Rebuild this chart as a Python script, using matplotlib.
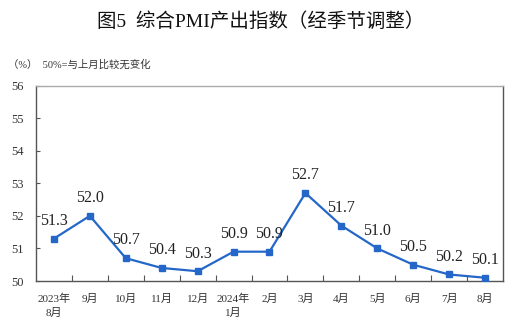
import matplotlib
matplotlib.use("Agg")
import matplotlib.pyplot as plt

categories = ["2023年\n8月", "9月", "10月", "11月", "12月", "2024年\n1月", "2月", "3月", "4月", "5月", "6月", "7月", "8月"]
values = [51.3, 52.0, 50.7, 50.4, 50.3, 50.9, 50.9, 52.7, 51.7, 51.0, 50.5, 50.2, 50.1]
yticks = [50, 51, 52, 53, 54, 55, 56]

fam = ["Liberation Serif", "Noto Sans CJK SC"]
plt.rcParams['font.family'] = fam

fig = plt.figure(figsize=(5.21, 3.24), dpi=100)
ax = fig.add_axes([0.069, 0.1327, 0.8965, 0.6033])

x = list(range(len(values)))
color = "#2567C8"
ax.plot(x, values, color=color, lw=1.6, marker="s", ms=4.5, zorder=3)
for xi, v in zip(x, values):
    ax.annotate(f"{v:.1f}", (xi, v), xytext=(0, 7), textcoords="offset points",
                ha="center", va="bottom", fontsize=11.5, color="#222222")

ax.set_xlim(-0.5, len(values) - 0.5)
ax.set_ylim(50, 56)
ax.set_yticks(yticks)
ax.set_yticklabels([str(t) for t in yticks], fontsize=9, color="#333333")
ax.tick_params(axis="y", direction="in", length=3, width=0.8, color="#555555", pad=9)

ax.set_xticks(x)
ax.set_xticklabels(categories, fontsize=8, color="#333333", linespacing=1.5)
ax.tick_params(axis="x", which="major", length=0, pad=9)
ax.set_xticks([i + 0.5 for i in range(len(values) - 1)], minor=True)
ax.tick_params(axis="x", which="minor", direction="in", length=4, width=0.8, color="#555555")

for s in ["left", "bottom", "right"]:
    ax.spines[s].set_color("#555555")
    ax.spines[s].set_linewidth(1.0)
ax.spines["top"].set_color("#AAAAAA")
ax.spines["top"].set_linewidth(1.0)

fig.text(0.5, 0.932, "图5  综合PMI产出指数（经季节调整）", ha="center", va="center",
         fontsize=14, color="#111111", family=fam)
fig.text(0.015, 0.8, "（%）  50%=与上月比较无变化", ha="left", va="center",
         fontsize=7.5, color="#333333", family=fam)

fig.savefig("out.png", dpi=100)
